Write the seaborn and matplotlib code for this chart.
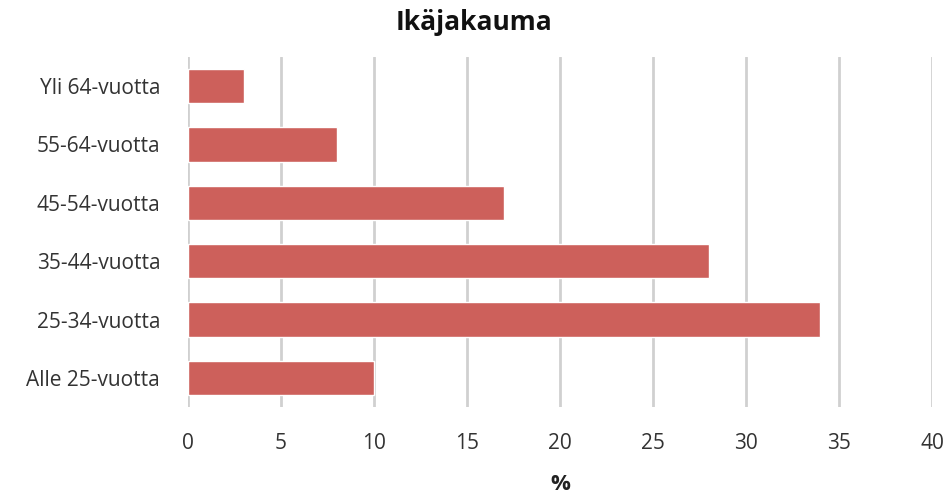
import matplotlib
matplotlib.use("Agg")
import matplotlib.pyplot as plt
import seaborn as sns
import pandas as pd

categories = ["Yli 64-vuotta", "55-64-vuotta", "45-54-vuotta",
              "35-44-vuotta", "25-34-vuotta", "Alle 25-vuotta"]
shares = [3, 8, 17, 28, 34, 10]
x_ticks = [0, 5, 10, 15, 20, 25, 30, 35, 40]

sns.set_theme(style="white")
plt.rcParams["font.family"] = ["Open Sans", "DejaVu Sans"]

df = pd.DataFrame({"Ikäryhmä": categories, "Osuus": shares})

fig = plt.figure(figsize=(9.49, 4.95), dpi=100)
ax = fig.add_axes([188 / 949, 88 / 495, (932 - 188) / 949, (407 - 57) / 495])

sns.barplot(data=df, x="Osuus", y="Ikäryhmä", order=categories,
            color="#CD605B", saturation=1, width=0.59, ax=ax, zorder=3)

ax.set_xlim(0, 40)
ax.set_ylim(5.5, -0.5)
ax.set_xticks(x_ticks)
ax.set_xticklabels([str(t) for t in x_ticks], fontsize=15, color="#333333")
ax.tick_params(axis="y", labelsize=15, labelcolor="#333333", length=0, pad=20)
ax.tick_params(axis="x", length=0, pad=19)
ax.xaxis.grid(True, color="#D0D0D0", linewidth=2, zorder=0)
ax.set_axisbelow(True)
for s in ax.spines.values():
    s.set_visible(False)

ax.set_ylabel("")
ax.set_xlabel("%", fontsize=16, fontweight="bold", color="#222222", labelpad=14)
fig.text(0.5, 1 - 22 / 495, "Ikäjakauma", ha="center", va="center",
         fontsize=19, fontweight="bold", color="#111111")

fig.savefig("out.png", dpi=100)
